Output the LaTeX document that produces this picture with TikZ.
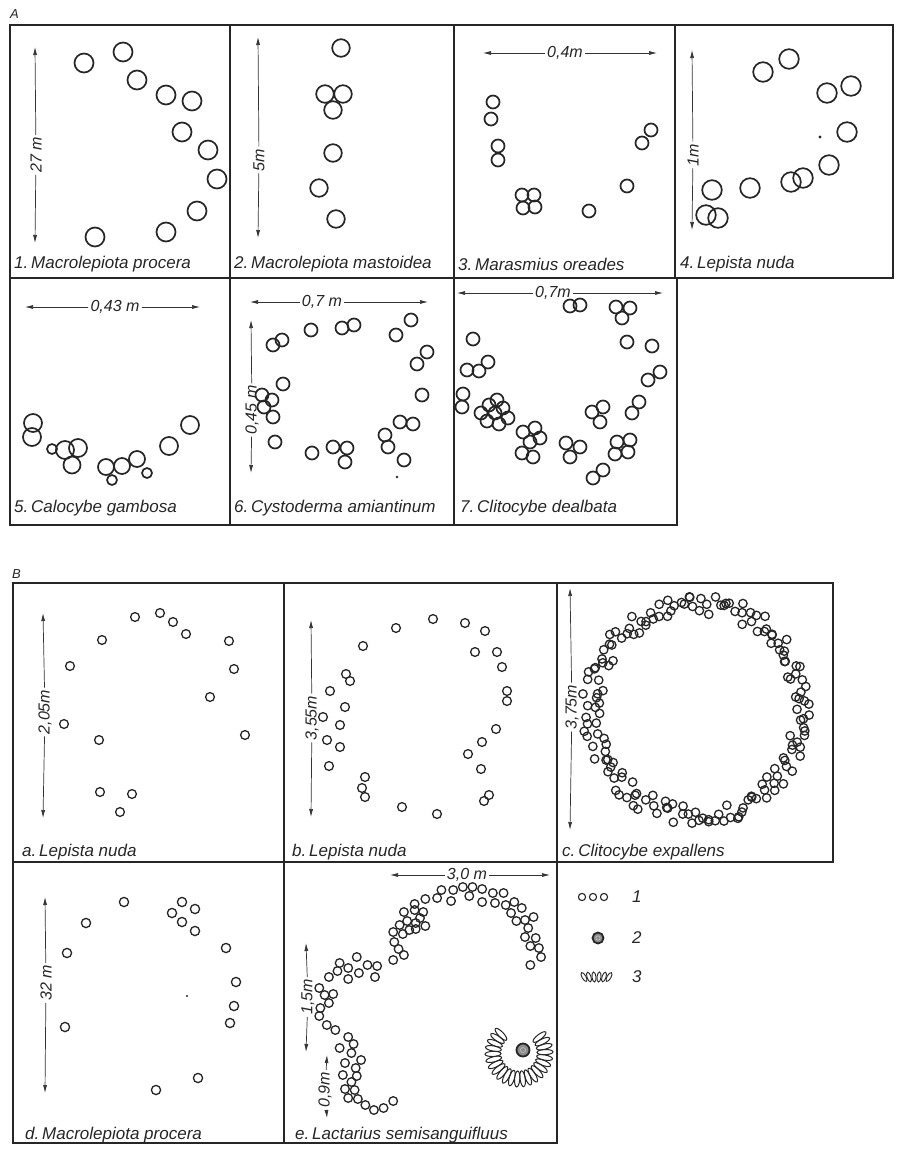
\documentclass[tikz,border=0pt]{standalone}
\usepackage{fontspec}
\setmainfont{Liberation Sans}
\usetikzlibrary{arrows.meta}
\begin{document}
\begin{tikzpicture}[x=1pt,y=-1pt,
  frame/.style={line width=1.5pt, draw=black!85},
  mush/.style={line width=1.7pt, draw=black!85},
  smush/.style={line width=1.3pt, draw=black!85},
  dim/.style={line width=0.7pt, draw=black!80, -{Latex[length=8pt,width=4pt]}},
  dlab/.style={font=\itshape\fontsize{16}{16}\selectfont, text=black!85, inner sep=2pt},
  captxt/.style={font=\itshape\fontsize{17}{17}\selectfont, text=black!85, anchor=west, inner sep=0pt},
  plab/.style={font=\itshape\fontsize{13}{13}\selectfont, text=black!85, anchor=west, inner sep=0pt},
  gill/.style={line width=1pt, draw=black!85}
]
\useasboundingbox (0,0) rectangle (897,1149);
\fill[white] (0,0) rectangle (897,1149);

% ---------------- Panel A frames
\node[plab] (lA) at (10,14) {A};
\draw[frame] (10,25) rectangle (893,278);
\draw[frame] (230,25) -- (230,525);
\draw[frame] (454,25) -- (454,525);
\draw[frame] (675,25) -- (675,278);
\draw[frame] (10,278) rectangle (677,525);

% A1
\coordinate (a1t) at (35,47); \coordinate (a1b) at (35,243);
\node[dlab, rotate=90] (a1l) at (36,155) {27 m};
\draw[dim] (a1l) -- (a1t); \draw[dim] (a1l) -- (a1b);
\foreach \x/\y in {84/63,123/52,137/80,166/95,192/101,182/132,208/150,217/179,197/211,166/232,95/237}
  \draw[mush] (\x,\y) circle (9.5);
\node[captxt] (c1) at (14,264) {1.\,Macrolepiota procera};

% A2
\coordinate (a2t) at (258,37); \coordinate (a2b) at (258,238);
\node[dlab, rotate=90] (a2l) at (259,160) {5m};
\draw[dim] (a2l) -- (a2t); \draw[dim] (a2l) -- (a2b);
\foreach \x/\y in {341/48,325/94,343/94,333/110,333/153,319/188,336/219}
  \draw[mush] (\x,\y) circle (8.8);
\node[captxt] (c2) at (234,264) {2.\,Macrolepiota mastoidea};

% A3
\coordinate (a3l) at (483,53); \coordinate (a3r) at (657,53);
\node[dlab] (a3m) at (565,53) {0,4m};
\draw[dim] (a3m) -- (a3l); \draw[dim] (a3m) -- (a3r);
\foreach \x/\y in {493/102,491/119,498/146,498/160,522/195,534/195,523/208,535/207,589/211,627/186,642/143,651/130}
  \draw[mush] (\x,\y) circle (6.5);
\node[captxt] (c3) at (458,264) {3.\,Marasmius oreades};

% A4
\coordinate (a4t) at (692,50); \coordinate (a4b) at (692,230);
\node[dlab, rotate=90] (a4l) at (693,155) {1m};
\draw[dim] (a4l) -- (a4t); \draw[dim] (a4l) -- (a4b);
\foreach \x/\y in {763/72,789/59,827/93,851/86,847/132,829/165,803/178,791/182,750/188,712/190,706/215,718/218}
  \draw[mush] (\x,\y) circle (9.8);
\fill[black!85] (820,137) circle (1.6);
\node[captxt] (c4) at (680,264) {4.\,Lepista nuda};

% A5
\coordinate (a5l) at (25,307); \coordinate (a5r) at (200,307);
\node[dlab] (a5m) at (115,307) {0,43 m};
\draw[dim] (a5m) -- (a5l); \draw[dim] (a5m) -- (a5r);
\foreach \x/\y/\r in {33/423/9,32/437/9,52/449/5,65/450/9,78/448/9,72/465/8.5,106/467/8,122/466/8,137/459/8,112/480/5,147/473/5,169/446/9,190/425/9}
  \draw[mush] (\x,\y) circle (\r);
\node[captxt] (c5) at (14,508) {5.\,Calocybe gambosa};

% A6
\coordinate (a6l) at (250,302); \coordinate (a6r) at (428,302);
\node[dlab] (a6m) at (322,302) {0,7 m};
\draw[dim] (a6m) -- (a6l); \draw[dim] (a6m) -- (a6r);
\coordinate (a6t) at (251,320); \coordinate (a6b) at (251,473);
\node[dlab, rotate=90] (a6v) at (252,410) {0,45 m};
\draw[dim] (a6v) -- (a6t); \draw[dim] (a6v) -- (a6b);
\foreach \x/\y in {273/345,282/340,311/330,342/328,354/325,396/335,411/320,427/352,417/364,422/395,283/384,262/395,272/400,264/407,273/417,275/442,312/453,333/447,347/448,345/462,385/435,388/447,400/422,413/424,404/460}
  \draw[mush] (\x,\y) circle (6.5);
\fill[black!85] (397,477) circle (1.3);
\node[captxt] (c6) at (234,508) {6.\,Cystoderma amiantinum};

% A7
\coordinate (a7l) at (457,293); \coordinate (a7r) at (663,293);
\node[dlab] (a7m) at (553,293) {0,7m};
\draw[dim] (a7m) -- (a7l); \draw[dim] (a7m) -- (a7r);
\foreach \x/\y in {570/306,580/305,616/307,630/308,622/318,627/342,652/346,660/372,648/380,639/402,632/413,473/339,467/370,479/371,488/362,463/394,462/407,
  481/413,489/405,497/400,487/421,495/413,503/408,499/424,508/418,
  523/432,535/428,530/442,540/438,522/453,533/457,
  566/443,580/447,570/457,
  592/412,603/407,600/422,
  617/442,630/440,628/452,615/454,
  593/478,603/470}
  \draw[mush] (\x,\y) circle (6.5);
\node[captxt] (c7) at (460,508) {7.\,Clitocybe dealbata};

% ---------------- Panel B frames
\node[plab] (lB) at (12,574) {B};
\draw[frame] (13,583) rectangle (833,862);
\draw[frame] (284,583) -- (284,1143);
\draw[frame] (557,583) -- (557,1143);
\draw[frame] (13,862) rectangle (557,1143);

% Ba
\coordinate (bat) at (43,613); \coordinate (bab) at (43,818);
\node[dlab, rotate=90] (bal) at (45,712) {2,05m};
\draw[dim] (bal) -- (bat); \draw[dim] (bal) -- (bab);
\foreach \x/\y in {135/617,160/613,173/622,186/634,102/640,70/666,229/641,234/669,210/697,64/724,99/740,245/735,100/792,132/794,120/812}
  \draw[smush] (\x,\y) circle (4.4);
\node[captxt] (ca) at (22,852) {a.\,Lepista nuda};

% Bb
\coordinate (bbt) at (311,620); \coordinate (bbb) at (311,817);
\node[dlab, rotate=90] (bbl) at (312,718) {3,55m};
\draw[dim] (bbl) -- (bbt); \draw[dim] (bbl) -- (bbb);
\foreach \x/\y in {396/628,433/619,465/623,485/631,363/646,475/652,497/652,502/667,507/691,507/701,496/729,482/742,468/754,481/769,489/795,484/801,346/674,350/681,330/691,345/707,323/717,340/725,327/740,340/747,329/766,365/777,362/788,365/797,402/807,437/814}
  \draw[smush] (\x,\y) circle (4.4);
\node[captxt] (cb) at (292,852) {b.\,Lepista nuda};

% Bc
\coordinate (bct) at (570,588); \coordinate (bcb) at (570,830);
\node[dlab, rotate=90] (bcl) at (572,707) {3,75m};
\draw[dim] (bcl) -- (bct); \draw[dim] (bcl) -- (bcb);
\pgfmathsetseed{4242}
\foreach \i in {1,...,170}{
  \pgfmathsetmacro\ang{\i*2.1176+rand*1.5}
  \pgfmathsetmacro\rad{106+rand*10}
  \draw[smush, shift={(697,710)}] (\ang:\rad) circle (4.2);
}
\node[captxt] (cc) at (562,852) {c.\,Clitocybe expallens};

% Bd
\coordinate (bdt) at (45,897); \coordinate (bdb) at (45,1093);
\node[dlab, rotate=90] (bdl) at (46,983) {32 m};
\draw[dim] (bdl) -- (bdt); \draw[dim] (bdl) -- (bdb);
\foreach \x/\y in {124/902,86/923,67/953,65/1027,182/902,172/913,195/909,182/922,195/931,226/948,236/982,234/1006,230/1023,198/1078,156/1090}
  \draw[smush] (\x,\y) circle (4.6);
\fill[black!85] (187,996) circle (1.2);
\node[captxt] (cd) at (25,1135) {d.\,Macrolepiota procera};

% Be
\coordinate (bel) at (390,875); \coordinate (ber) at (550,875);
\node[dlab] (bem) at (467,875) {3,0 m};
\draw[dim] (bem) -- (bel); \draw[dim] (bem) -- (ber);
\coordinate (be1t) at (306,943); \coordinate (be1b) at (306,1052);
\node[dlab, rotate=90] (be1l) at (308,997) {1,5m};
\draw[dim] (be1l) -- (be1t); \draw[dim] (be1l) -- (be1b);
\coordinate (be2t) at (327,1055); \coordinate (be2b) at (327,1118);
\node[dlab, rotate=90] (be2l) at (325,1090) {0,9m};
\draw[dim] (be2l) -- (be2t); \draw[dim] (be2l) -- (be2b);
\foreach \x/\y in {
  313/1030,325/1037,330/1044,317/1048,328/1053,337/1060,322/1063,332/1068,333/1076,320/1075,328/1082,322/1089,331/1090,325/1098,334/1099,341/1105,349/1110,358/1108,367/1101,
  298/988,303/995,311/994,307/1003,299/1008,298/1016,305/1025,
  317/963,325/968,333/957,343/965,352/966,350/977,335/973,325/979,315/971,307/977,
  367/960,377/955,372/949,368/942,367/932,376/934,373/925,380/921,388/923,392/918,397/926,388/929,382/930,377/912,387/910,395/912,387/904,397/899,
  408/898,412/890,421/901,423/890,432/887,438/896,441/887,450/902,450/889,460/893,462/903,470/893,472/905,480/902,477/913,487/908,490/920,482/921,498/917,493/928,490/937,500/938,495/946,503/948,505/957,495/965}
  \draw[smush] ({1.0714*\x},\y) circle (4.3);
% rosette (gap at the top)
\foreach \a in {-38,-26,...,234}
  \draw[gill, shift={(519,1053)}, rotate=-\a] (26,0) ellipse [x radius=8, y radius=2.6];
\draw[line width=1.8pt, draw=black!85, fill=black!45] (523,1050) circle (6.5);
\draw[line width=0.5pt, draw=black!20] (523,1050) circle (2.5);
\node[captxt] (ce) at (295,1135) {e.\,Lactarius semisanguifluus};

% Legend
\foreach \x in {582,593,604}
  \draw[line width=1.1pt, draw=black!85] (\x,897) circle (3.6);
\node[captxt] (l1) at (632,897) {1};
\draw[line width=1.8pt, draw=black!85, fill=black!45] (598,938) circle (5.5);
\draw[line width=0.5pt, draw=black!20] (598,938) circle (2.2);
\node[captxt] (l2) at (632,938) {2};
\foreach \x/\a in {584/30,589/18,594/6,599/-6,604/-18,609/-30}
  \draw[line width=0.9pt, draw=black!85, shift={(\x,977)}, rotate=\a+90] (0,0) ellipse [x radius=5, y radius=2];
\node[captxt] (l3) at (632,977) {3};
\end{tikzpicture}
\end{document}
